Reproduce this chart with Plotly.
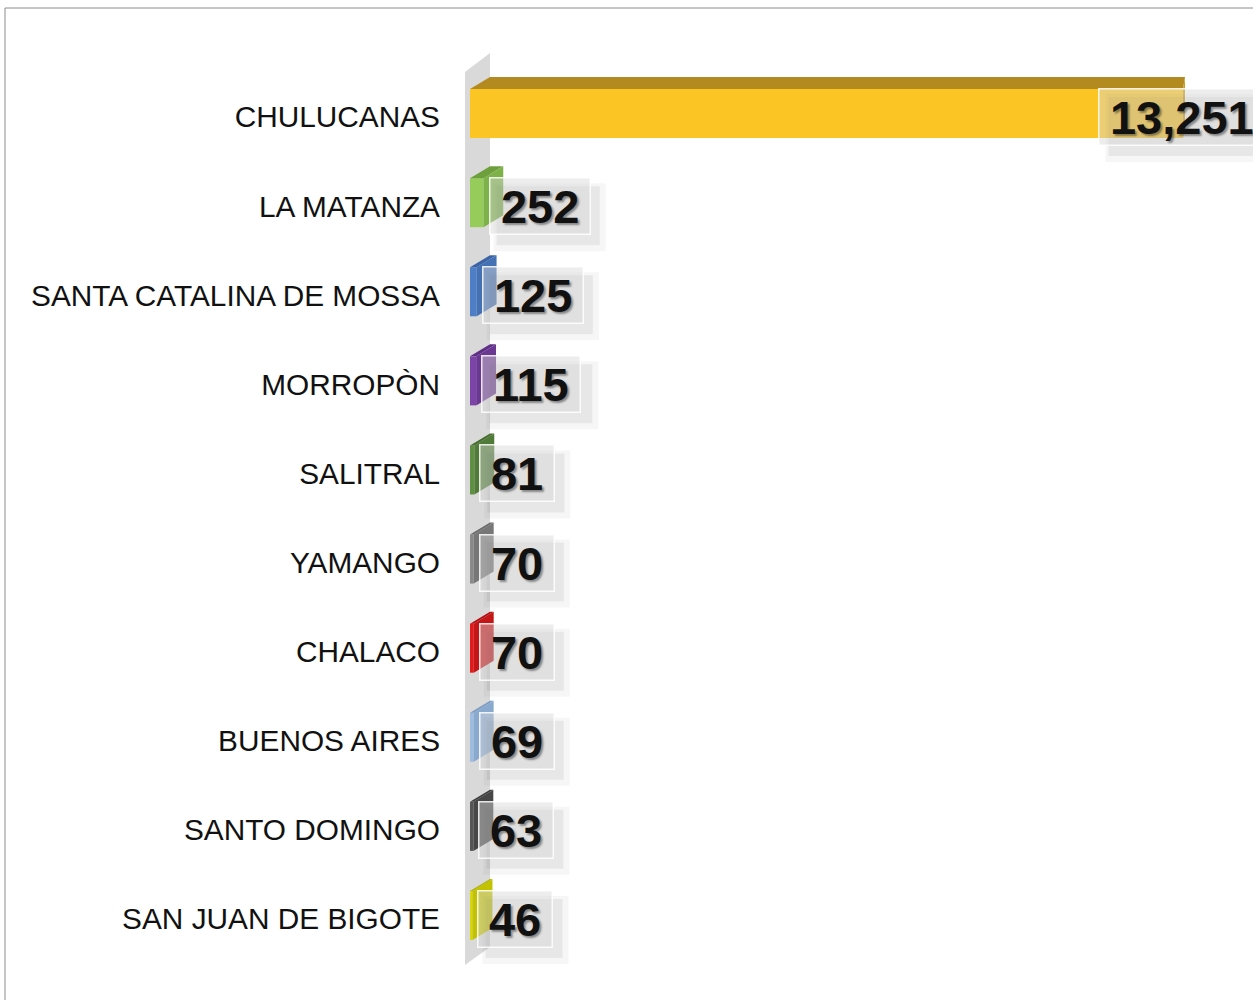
import plotly.graph_objects as go

# ---- data ----
categories = ["CHULUCANAS", "LA MATANZA", "SANTA CATALINA DE MOSSA", "MORROPÒN",
              "SALITRAL", "YAMANGO", "CHALACO", "BUENOS AIRES", "SANTO DOMINGO",
              "SAN JUAN DE BIGOTE"]
values = [13251, 252, 125, 115, 81, 70, 70, 69, 63, 46]
value_labels = ["13,251", "252", "125", "115", "81", "70", "70", "69", "63", "46"]

# ---- styles ----
front_colors = ["#FBC523", "#96CC5A", "#4E7FC6", "#7D44A8", "#5F8F42",
                "#8A8A8A", "#E3191C", "#9DBCE0", "#555555", "#D6D60B"]
top_colors = ["#B38A1F", "#6E9F3D", "#3B63A5", "#5E2F85", "#466D30",
              "#6A6A6A", "#B01215", "#7C9CC2", "#3E3E3E", "#B0B000"]
side_colors = ["#C99E1C", "#7DB248", "#4470B4", "#6A3893", "#507A37",
               "#777777", "#C41517", "#89A9CF", "#474747", "#C2C200"]

W, H = 1253, 1000
ML, MR, MT, MB = 465, 0, 50, 34
PW = W - ML - MR
PH = H - MT - MB
x0_px = 470                      # pixel of value 0
scale = 713.0 / max(values)      # px per unit
x_min = -(x0_px - ML) / scale
x_max = (W - x0_px) / scale
cat_px = 89.1                    # px per category
c0 = 72.5                        # pixel of top of first category band
y_top = -0.5 - (c0 - MT) / cat_px
y_bot = y_top + PH / cat_px


def ypx(p):
    """pixel row -> category-axis value"""
    return -0.5 + (p - c0) / cat_px


def depth_dx(v):
    """perspective: depth offset (data units) shrinks towards the right"""
    px = v * scale
    return (20 - 18 * px / 713.0) / scale


dyu = 12 / cat_px                # depth offset (y) in data units
off = -0.314
bw = 0.55

fig = go.Figure()

# front faces
fig.add_trace(go.Bar(
    x=values, y=list(range(len(values))), orientation="h",
    width=bw, offset=off, marker=dict(color=front_colors, line=dict(width=0)),
    hoverinfo="skip", showlegend=False))

for i, v in enumerate(values):
    t = i + off
    b = i + off + bw
    d0 = depth_dx(0)
    dv = depth_dx(v)
    # top face
    fig.add_trace(go.Scatter(
        x=[0, d0, v + dv, v, 0], y=[t, t - dyu, t - dyu, t, t],
        fill="toself", mode="lines", line=dict(width=0),
        fillcolor=top_colors[i], hoverinfo="skip", showlegend=False))
    # side face
    fig.add_trace(go.Scatter(
        x=[v, v + dv, v + dv, v, v], y=[t, t - dyu, b - dyu, b, t],
        fill="toself", mode="lines", line=dict(width=0),
        fillcolor=side_colors[i], hoverinfo="skip", showlegend=False))

shapes = []
# back wall (below the bars)
wx0, wx1 = x_min, 20 / scale
shapes.append(dict(
    type="path", xref="x", yref="y", layer="below",
    path="M %f,%f L %f,%f L %f,%f L %f,%f Z" % (
        wx0, ypx(72), wx1, ypx(53), wx1, ypx(947), wx0, ypx(965)),
    line=dict(width=0), fillcolor="#D9D9D9"))

FS = 47
SP = "\u2009"
annotations = []
for i, v in enumerate(values):
    lab = value_labels[i]
    txt = SP + lab + SP
    est_w = 0.556 * FS * (len(lab) - lab.count(",")) + 0.278 * FS * lab.count(",") + 0.4 * FS + 3
    v_px = x0_px + v * scale
    if v_px + 8 + est_w > W:
        ax, anchor, xs = x_max, "right", 13
        bx0, bx1 = xs - est_w, xs
    else:
        ax, anchor, xs = v, "left", 5
        bx0, bx1 = xs, xs + est_w
    # soft drop shadow behind the label box
    for (d, grow, a) in [(9, 8, 0.035), (9, 2, 0.06)]:
        shapes.append(dict(
            type="rect", xref="x", yref="y", xsizemode="pixel", ysizemode="pixel",
            xanchor=ax, yanchor=i, x0=bx0 + d - grow / 2, x1=bx1 + d + grow,
            y0=-28 - d - grow, y1=28 - d + grow / 2,
            line=dict(width=0), fillcolor="rgba(0,0,0,%g)" % a, layer="above"))
    annotations.append(dict(
        x=ax, y=i, xref="x", yref="y", text="<b>" + txt + "</b>", showarrow=False,
        xanchor=anchor, yanchor="middle", xshift=xs,
        font=dict(family="Liberation Sans, Arial", size=FS, color="#111111",
                  shadow="2px 2px 2px rgba(0,0,0,0.4)"),
        bgcolor="rgba(215,215,215,0.45)", bordercolor="rgba(255,255,255,0.85)",
        borderwidth=1.5, borderpad=1))

# outer chart border (partially off-canvas like the reference)
shapes.append(dict(type="rect", xref="paper", yref="paper",
                   x0=(5 - ML) / PW, x1=(W + 30 - ML) / PW,
                   y0=-60 / PH, y1=(H - MB - 8) / PH,
                   line=dict(color="#8C8C8C", width=1), fillcolor="rgba(0,0,0,0)",
                   layer="below"))

fig.update_layout(
    width=W, height=H,
    margin=dict(l=ML, r=MR, t=MT, b=MB, pad=0),
    paper_bgcolor="white", plot_bgcolor="rgba(0,0,0,0)",
    hovermode=False, showlegend=False,
    xaxis=dict(range=[x_min, x_max], visible=False, fixedrange=True),
    yaxis=dict(range=[y_bot, y_top], tickvals=list(range(len(categories))),
               ticktext=categories, showgrid=False, zeroline=False,
               showline=False, ticks="", ticklabelstandoff=24,
               tickfont=dict(family="Liberation Sans, Arial", size=29.8, color="#111111"),
               fixedrange=True),
    annotations=annotations, shapes=shapes,
)

fig.write_html("out.html", config={"displayModeBar": False},
               post_script="document.body.style.margin='0px';")
